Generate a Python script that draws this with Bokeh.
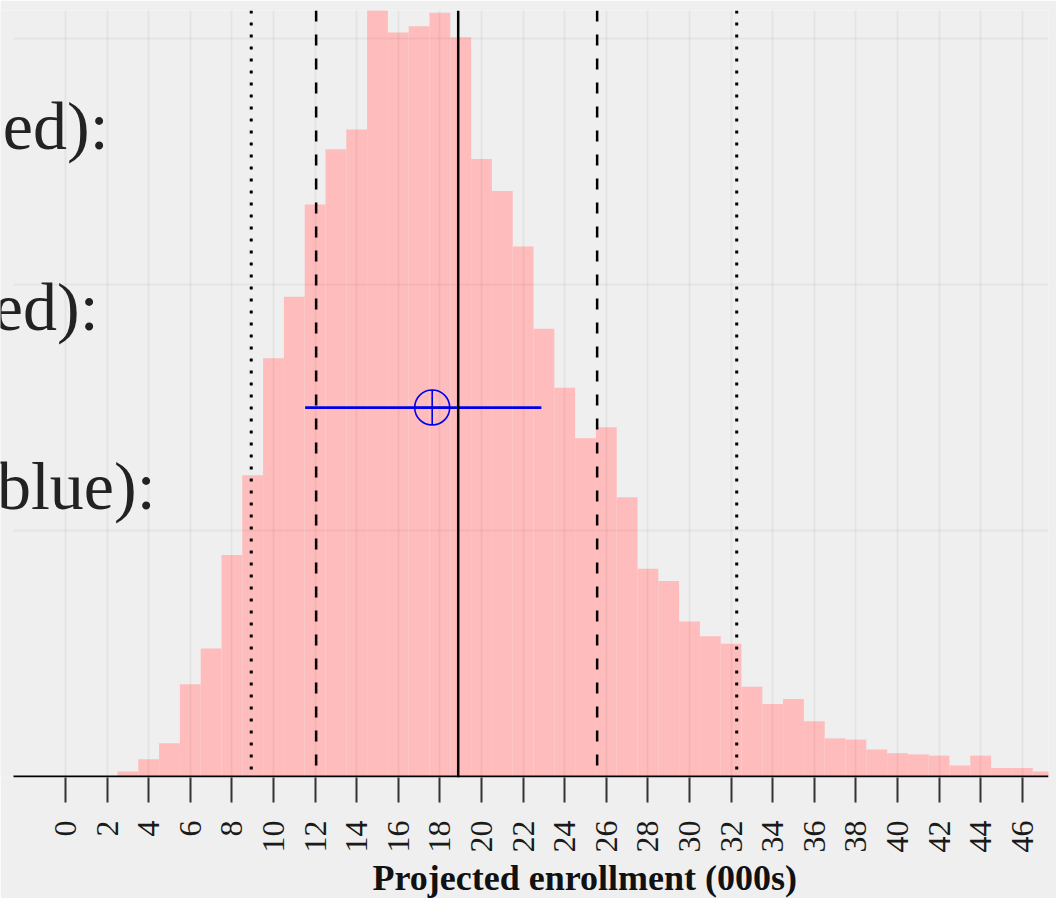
import math
from bokeh.plotting import figure
from bokeh.models import FixedTicker, Range1d, Label, Span, ColumnDataSource, Title
from bokeh.embed import file_html
from bokeh.resources import INLINE

# Histogram (density) of projected enrollment, bins of width 1 (000s)
bin_left = [2.5 + i for i in range(45)]
density = [0.0004, 0.0014, 0.0027, 0.0075, 0.0104, 0.0180, 0.0245, 0.0340, 0.0390,
           0.0465, 0.0510, 0.0526, 0.0623, 0.0605, 0.0610, 0.0621, 0.0601, 0.0502,
           0.0476, 0.0431, 0.0364, 0.0316, 0.0275, 0.0284, 0.0227, 0.0169, 0.0159,
           0.0126, 0.0114, 0.0108, 0.0073, 0.0059, 0.0063, 0.0045, 0.0031, 0.0030,
           0.0022, 0.0019, 0.0018, 0.0017, 0.0009, 0.0017, 0.0007, 0.0007, 0.0004]
bin_right = [b + 1 for b in bin_left]

# Reference lines
median_line = [18.88]
inner_interval = [12.05, 25.56]   # dashed
outer_interval = [8.93, 32.27]    # dotted

# Blue interval with point estimate
blue_lo, blue_hi, blue_pt, blue_y = 11.52, 22.88, 17.63, 0.030

x_ticks = list(range(0, 47, 2))
y_grid = [0.02, 0.04, 0.06]
axis_span = [-2.5, 47.26]
x_label = "Projected enrollment (000s)"
side_texts = ["ed):", "ed):", "blue):"]

BG = "#efefef"
SERIF = "Liberation Serif"

p = figure(width=1056, height=898, output_backend="svg", toolbar_location=None,
           x_range=Range1d(-3.125, 47.26), y_range=Range1d(-0.00008, 0.06228),
           min_border_left=0, min_border_right=8, min_border_top=10,
           min_border_bottom=121)
p.background_fill_color = BG
p.border_fill_color = BG
p.outline_line_color = None

src = ColumnDataSource(dict(left=bin_left, right=bin_right, top=density,
                            bottom=[0] * len(density)))
p.quad(left="left", right="right", top="top", bottom="bottom", source=src,
       fill_color="#ffbcbc", line_color=None)

# grids drawn over the bars
p.xgrid.ticker = FixedTicker(ticks=x_ticks)
p.xgrid.grid_line_color = "black"
p.xgrid.grid_line_alpha = 0.042
p.xgrid.grid_line_width = 2
p.xgrid.level = "overlay"
p.ygrid.visible = False
p.segment(x0=[axis_span[0]] * len(y_grid), x1=[axis_span[1]] * len(y_grid),
          y0=y_grid, y1=y_grid, line_color="black", line_alpha=0.042,
          line_width=2, level="overlay")

for loc in median_line:
    p.add_layout(Span(location=loc, dimension="height", line_color="black",
                      line_width=2.5))
for loc in inner_interval:
    p.add_layout(Span(location=loc, dimension="height", line_color="black",
                      line_width=2.5, line_dash="11 13"))
for loc in outer_interval:
    p.add_layout(Span(location=loc, dimension="height", line_color="black",
                      line_width=3, line_dash="3 9"))

p.segment(x0=[blue_lo], x1=[blue_hi], y0=[blue_y], y1=[blue_y],
          line_color="#0000ee", line_width=2.8)
p.scatter(x=[blue_pt], y=[blue_y], marker="circle_cross", size=35,
          fill_color=None, line_color="#0000ee", line_width=1.6)

# custom axis line (starts at -2.5 like the reference)
p.segment(x0=[axis_span[0]], x1=[axis_span[1]], y0=[0], y1=[0],
          line_color="black", line_width=2)

# axes
p.yaxis.visible = False
ax = p.xaxis[0]
ax.ticker = FixedTicker(ticks=x_ticks)
ax.axis_line_color = None
ax.major_tick_line_color = "#333333"
ax.major_tick_line_width = 2
ax.major_tick_out = 25
ax.major_tick_in = 0
ax.minor_tick_line_color = None
ax.major_label_orientation = math.pi / 2
ax.major_label_standoff = 18
ax.major_label_text_font = SERIF
ax.major_label_text_font_size = "32px"
ax.major_label_text_color = "#1a1a1a"

p.add_layout(Title(text=x_label, align="left", offset=372, standoff=0,
                   text_font=SERIF, text_font_style="bold",
                   text_font_size="36px", text_color="#111111"), "below")

# partially visible side texts
for txt, xr, yb in zip(side_texts, [2.07, 1.59, 4.33], [0.05285, 0.03821, 0.02358]):
    p.add_layout(Label(x=xr, y=yb, text=txt, text_align="right",
                       text_baseline="alphabetic", text_font=SERIF,
                       text_font_size="68px", text_color="#222222"))

open("out.html", "w").write(file_html(p, INLINE))
